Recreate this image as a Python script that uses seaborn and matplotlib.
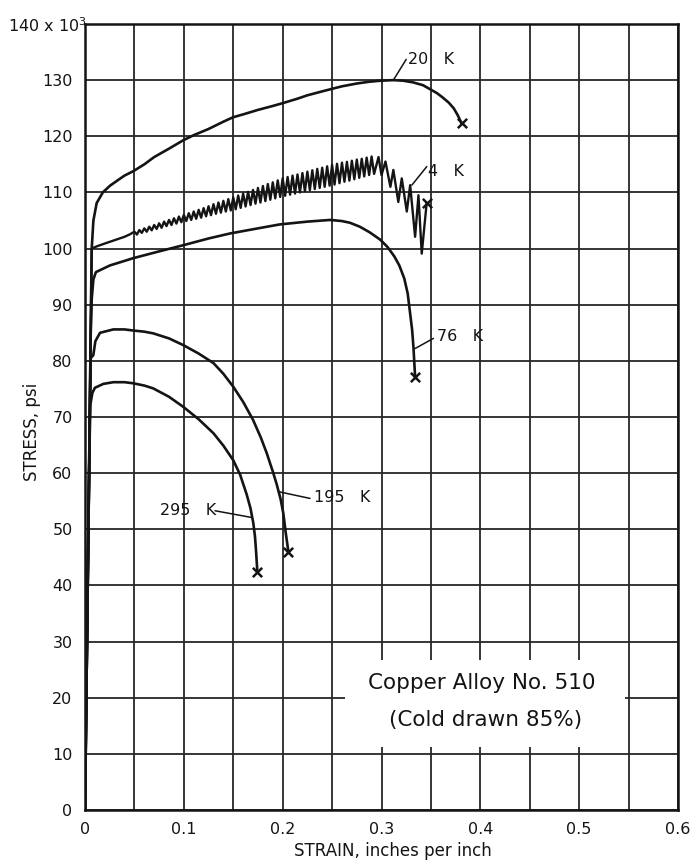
import matplotlib
matplotlib.use("Agg")
import matplotlib.pyplot as plt
from matplotlib.patches import Rectangle
import pandas as pd
import seaborn as sns

# ---- stress-strain records (strain in in/in, stress in ksi) ----
strain_20k = [0, 0.0035, 0.0062, 0.0068, 0.0085, 0.0118, 0.018, 0.0253, 0.035, 0.040,
              0.049, 0.060, 0.070, 0.085, 0.0995, 0.110, 0.125, 0.140, 0.150, 0.160,
              0.175, 0.190, 0.200, 0.215, 0.225, 0.240, 0.251, 0.260, 0.275, 0.287,
              0.299, 0.312, 0.322, 0.332, 0.342, 0.350, 0.356, 0.362, 0.368, 0.373,
              0.377, 0.381]
stress_20k = [0, 51, 92, 100, 105, 108.1, 110.0, 111.2, 112.4, 113.0,
              113.8, 115.0, 116.3, 117.8, 119.3, 120.2, 121.3, 122.6, 123.4, 123.9,
              124.7, 125.4, 125.9, 126.7, 127.3, 128.0, 128.5, 128.9, 129.4, 129.7,
              129.9, 130.0, 129.9, 129.6, 129.1, 128.3, 127.7, 126.9, 126.0, 125.0,
              123.8, 122.3]

# 4 K: smooth start, then serrated flow (peak / trough pairs), then the big final drops
strain_4k = [0, 0.0035, 0.0068, 0.012, 0.020, 0.030, 0.040, 0.045,
             0.050, 0.0525, 0.055, 0.0575, 0.060, 0.0625, 0.065, 0.0675, 0.070, 0.0725,
             0.075, 0.0775, 0.080, 0.0825, 0.085, 0.0875, 0.090, 0.0925, 0.095, 0.0975,
             0.100, 0.1025, 0.105, 0.1075, 0.110, 0.1125, 0.115, 0.1175, 0.120, 0.1225,
             0.125, 0.1275, 0.130, 0.1325, 0.135, 0.1375, 0.140, 0.1425, 0.145, 0.1475,
             0.150, 0.1525, 0.155, 0.1575, 0.160, 0.1625, 0.165, 0.1675, 0.170, 0.1725,
             0.175, 0.1775, 0.180, 0.1825, 0.185, 0.1875, 0.190, 0.1925, 0.195, 0.1975,
             0.200, 0.2025, 0.205, 0.2075, 0.210, 0.2125, 0.215, 0.2175, 0.220, 0.2225,
             0.225, 0.2275, 0.230, 0.2325, 0.235, 0.2375, 0.240, 0.2425, 0.245, 0.2475,
             0.250, 0.2525, 0.255, 0.2575, 0.260, 0.2625, 0.265, 0.2675, 0.270, 0.2725,
             0.275, 0.2775, 0.280, 0.2825, 0.285, 0.2875, 0.290, 0.2925,
             0.297, 0.300, 0.304, 0.309, 0.312, 0.317, 0.3205, 0.3256, 0.329, 0.334,
             0.3374, 0.3407, 0.3457]
stress_4k = [0, 51, 100, 100.4, 100.9, 101.5, 102.1, 102.5,
             103.0, 102.5, 103.3, 102.8, 103.6, 103.0, 103.9, 103.25, 104.2, 103.5,
             104.5, 103.7, 104.8, 104.0, 105.1, 104.2, 105.4, 104.45, 105.7, 104.7,
             106.0, 104.9, 106.3, 105.1, 106.6, 105.3, 106.9, 105.5, 107.2, 105.75,
             107.55, 105.95, 107.9, 106.2, 108.2, 106.4, 108.5, 106.6, 108.8, 106.8,
             109.1, 107.0, 109.45, 107.25, 109.8, 107.5, 110.1, 107.75, 110.45, 108.0,
             110.8, 108.2, 111.15, 108.45, 111.5, 108.7, 111.8, 108.95, 112.15, 109.2,
             112.5, 109.4, 112.75, 109.6, 113.0, 109.8, 113.2, 110.0, 113.45, 110.2,
             113.7, 110.4, 113.95, 110.6, 114.2, 110.8, 114.4, 111.0, 114.65, 111.2,
             114.9, 111.4, 115.1, 111.65, 115.3, 111.9, 115.45, 112.1, 115.65, 112.35,
             115.85, 112.6, 116.0, 112.85, 116.2, 113.1, 116.4, 113.3,
             116.3, 113.1, 115.5, 111.0, 114.0, 108.3, 112.5, 106.6, 111.3, 102.1,
             109.5, 99.1, 108.1]

strain_76k = [0, 0.0035, 0.0058, 0.0068, 0.0085, 0.011, 0.0169, 0.0253, 0.049, 0.075,
              0.0995, 0.125, 0.147, 0.175, 0.197, 0.225, 0.248, 0.260, 0.268, 0.278,
              0.288, 0.2986, 0.306, 0.313, 0.318, 0.323, 0.3265, 0.329, 0.331, 0.3323,
              0.334]
stress_76k = [0, 51, 85, 91, 94.5, 95.8, 96.3, 97.0, 98.3, 99.5,
              100.6, 101.8, 102.7, 103.6, 104.3, 104.8, 105.1, 104.9, 104.6, 103.9,
              102.9, 101.6, 100.3, 98.6, 97.0, 94.7, 92.0, 88.4, 85.5, 82.5,
              77.2]

strain_195k = [0, 0.0035, 0.0058, 0.0084, 0.0105, 0.0152, 0.0287, 0.040, 0.049, 0.060,
               0.069, 0.085, 0.0995, 0.115, 0.130, 0.140, 0.150, 0.160, 0.170, 0.178,
               0.184, 0.190, 0.194, 0.198, 0.2007, 0.203, 0.2058]
stress_195k = [0, 51, 80.5, 81.0, 83.5, 85.0, 85.6, 85.6, 85.4, 85.2,
               84.9, 84.0, 82.8, 81.3, 79.6, 77.7, 75.4, 72.7, 69.5, 66.3,
               63.5, 60.3, 58.0, 55.3, 52.8, 49.5, 46.0]

strain_295k = [0, 0.0035, 0.0052, 0.0075, 0.010, 0.0186, 0.0287, 0.040, 0.049, 0.060,
               0.069, 0.085, 0.0995, 0.115, 0.130, 0.140, 0.150, 0.157, 0.1636, 0.1675,
               0.1703, 0.172, 0.173, 0.1744]
stress_295k = [0, 51, 72, 74.3, 75.2, 75.9, 76.2, 76.2, 76.0, 75.6,
               75.1, 73.6, 71.8, 69.6, 67.1, 64.9, 62.3, 59.7, 56.2, 53.7,
               51.1, 48.7, 46.3, 42.4]

temps = ["20 K", "4 K", "76 K", "195 K", "295 K"]
strains = [strain_20k, strain_4k, strain_76k, strain_195k, strain_295k]
stresses = [stress_20k, stress_4k, stress_76k, stress_195k, stress_295k]

x_ticks = [0, 0.1, 0.2, 0.3, 0.4, 0.5, 0.6]
x_minor_ticks = [0.05, 0.15, 0.25, 0.35, 0.45, 0.55]
x_tick_labels = ["0", "0.1", "0.2", "0.3", "0.4", "0.5", "0.6"]
y_ticks = [0, 10, 20, 30, 40, 50, 60, 70, 80, 90, 100, 110, 120, 130, 140]
y_tick_labels = ["0", "10", "20", "30", "40", "50", "60", "70", "80", "90",
                 "100", "110", "120", "130", ""]

# label text, text anchor (x, y), leader start on curve, leader end near text
label_text = ["20   K", "4   K", "76   K", "195   K", "295   K"]
label_pos = [(0.327, 133.6), (0.347, 113.7), (0.356, 84.3), (0.2315, 55.6), (0.0755, 53.4)]
leader_from = [(0.312, 130.0), (0.3307, 111.3), (0.334, 82.2), (0.1957, 56.7), (0.1687, 52.1)]
leader_to = [(0.325, 133.7), (0.3458, 114.6), (0.3525, 84.0), (0.2277, 55.5), (0.1316, 53.3)]

frames = []
for t, xs, ys in zip(temps, strains, stresses):
    frames.append(pd.DataFrame({"strain": xs, "stress": ys, "temp": t}))
df = pd.concat(frames, ignore_index=True)
ends = df.groupby("temp", sort=False).tail(1)

sns.set_style("white")
plt.rcParams["font.family"] = ["DejaVu Sans"]

ink = "#141414"
fig = plt.figure(figsize=(6.95, 8.65), dpi=100)
ax = fig.add_axes([85 / 695, 1 - 810 / 865, 593 / 695, 786 / 865])

smooth = df[df["temp"] != "4 K"]
sns.lineplot(data=smooth, x="strain", y="stress", units="temp", estimator=None,
             sort=False, color=ink, lw=1.9, ax=ax, zorder=4)
sns.lineplot(data=df[df["temp"] == "4 K"], x="strain", y="stress", estimator=None,
             sort=False, color=ink, lw=1.7, ax=ax, zorder=4)
sns.scatterplot(data=ends, x="strain", y="stress", marker="x", s=45,
                color=ink, linewidth=1.8, ax=ax, zorder=5)

ax.set_xlim(0, 0.6)
ax.set_ylim(0, 140)
ax.set_xticks(x_ticks)
ax.set_xticks(x_minor_ticks, minor=True)
ax.set_xticklabels(x_tick_labels)
ax.set_yticks(y_ticks)
ax.set_yticklabels(y_tick_labels)
ax.grid(which="both", color="#262626", lw=1.3, zorder=1)
ax.set_axisbelow(True)
ax.tick_params(axis="both", which="both", length=0, labelsize=11.5, colors=ink)
ax.tick_params(axis="x", pad=9)
ax.tick_params(axis="y", pad=9)
for s in ax.spines.values():
    s.set_color(ink)
    s.set_linewidth(1.8)
ax.set_xlabel("")
ax.set_ylabel("")

# white patch behind the alloy caption
ax.add_patch(Rectangle((0.263, 11.3), 0.283, 15.4, facecolor="white",
                       edgecolor="none", zorder=2))
ax.text(0.401, 22.6, "Copper Alloy No. 510", ha="center", va="center",
        fontsize=15.5, color=ink, zorder=3)
ax.text(0.405, 16.0, "(Cold drawn 85%)", ha="center", va="center",
        fontsize=15.5, color=ink, zorder=3)

for txt, pos, p0, p1 in zip(label_text, label_pos, leader_from, leader_to):
    ax.plot([p0[0], p1[0]], [p0[1], p1[1]], color=ink, lw=1.1, zorder=4)
    ax.text(pos[0], pos[1], txt, ha="left", va="center", fontsize=11.5,
            color=ink, zorder=4)

fig.text(87 / 695, 1 - 26 / 865, r"140 x 10$^3$", ha="right", va="center",
         fontsize=11.5, color=ink)
fig.text(393 / 695, 1 - 851 / 865, "STRAIN, inches per inch", ha="center",
         va="center", fontsize=12, color=ink)
fig.text(32 / 695, 1 - 432 / 865, "STRESS, psi", ha="center", va="center",
         rotation=90, fontsize=12, color=ink)

fig.savefig("out.png", dpi=100, facecolor="white")
